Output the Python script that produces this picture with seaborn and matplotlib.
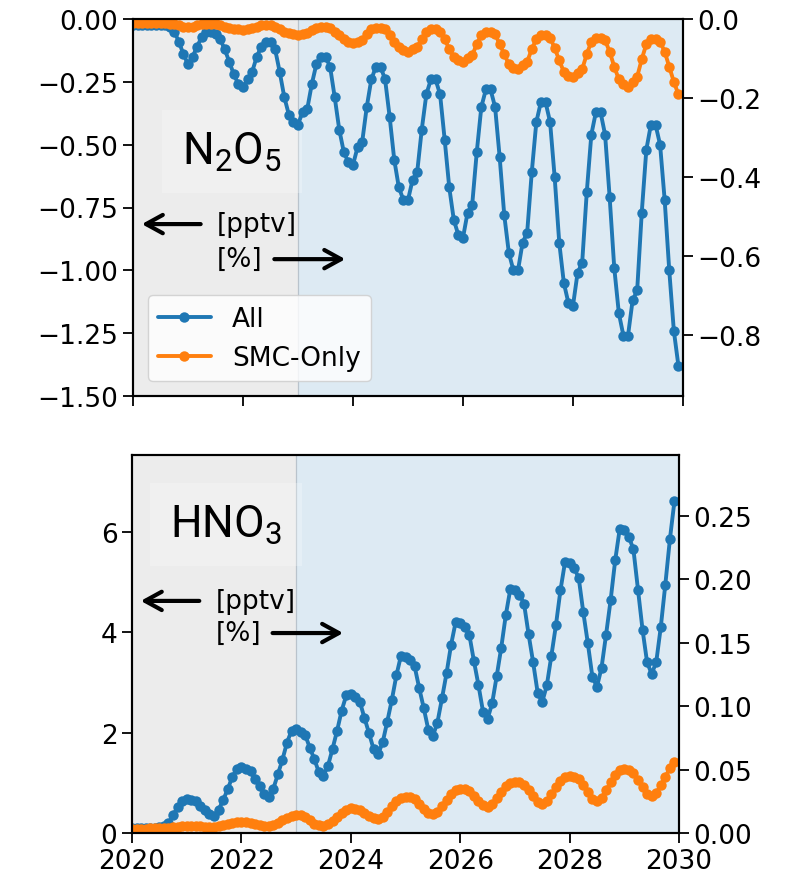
import numpy as np
import pandas as pd
import matplotlib
matplotlib.use("Agg")
import matplotlib.pyplot as plt
import seaborn as sns

# ---- monthly model output, Jan 2020 .. Dec 2029 ----
months = 2020 + np.arange(120) / 12

# N2O5 change [pptv]
n2o5_all = [
    -0.025, -0.025, -0.025, -0.025, -0.025, -0.025, -0.025, -0.025, -0.03, -0.05, -0.09, -0.14,
    -0.18, -0.15, -0.11, -0.07, -0.05, -0.05, -0.06, -0.08, -0.12, -0.17, -0.22, -0.26,
    -0.27, -0.24, -0.21, -0.15, -0.11, -0.09, -0.09, -0.12, -0.21, -0.31, -0.38, -0.41,
    -0.42, -0.37, -0.36, -0.26, -0.18, -0.15, -0.15, -0.19, -0.31, -0.44, -0.53, -0.57,
    -0.58, -0.51, -0.49, -0.35, -0.24, -0.19, -0.19, -0.24, -0.39, -0.56, -0.67, -0.72,
    -0.72, -0.64, -0.61, -0.44, -0.30, -0.24, -0.24, -0.30, -0.48, -0.67, -0.80, -0.86,
    -0.87, -0.77, -0.74, -0.53, -0.35, -0.28, -0.28, -0.35, -0.55, -0.78, -0.93, -1.00,
    -1.00, -0.89, -0.85, -0.61, -0.41, -0.33, -0.33, -0.41, -0.63, -0.89, -1.05, -1.13,
    -1.14, -1.01, -0.97, -0.69, -0.46, -0.37, -0.37, -0.46, -0.71, -0.99, -1.17, -1.26,
    -1.26, -1.12, -1.08, -0.77, -0.52, -0.42, -0.42, -0.50, -0.72, -1.00, -1.24, -1.38,
]
n2o5_smc = [
    -0.015, -0.015, -0.015, -0.015, -0.015, -0.015, -0.015, -0.015, -0.02, -0.02, -0.025, -0.03,
    -0.03, -0.03, -0.025, -0.02, -0.02, -0.02, -0.02, -0.025, -0.03, -0.035, -0.04, -0.04,
    -0.045, -0.04, -0.035, -0.03, -0.025, -0.025, -0.025, -0.03, -0.04, -0.05, -0.055, -0.06,
    -0.065, -0.06, -0.055, -0.045, -0.035, -0.03, -0.03, -0.035, -0.05, -0.065, -0.08, -0.09,
    -0.095, -0.09, -0.085, -0.06, -0.04, -0.035, -0.035, -0.04, -0.065, -0.09, -0.11, -0.125,
    -0.13, -0.12, -0.11, -0.08, -0.05, -0.04, -0.04, -0.05, -0.08, -0.12, -0.15, -0.165,
    -0.17, -0.155, -0.145, -0.10, -0.065, -0.05, -0.05, -0.06, -0.10, -0.14, -0.18, -0.195,
    -0.20, -0.185, -0.17, -0.12, -0.08, -0.065, -0.065, -0.075, -0.115, -0.165, -0.21, -0.225,
    -0.23, -0.215, -0.20, -0.14, -0.09, -0.075, -0.075, -0.085, -0.13, -0.19, -0.24, -0.26,
    -0.27, -0.25, -0.23, -0.16, -0.10, -0.08, -0.08, -0.09, -0.13, -0.19, -0.25, -0.30,
]

# HNO3 change [pptv]
hno3_all = [
    0.10, 0.10, 0.10, 0.10, 0.10, 0.10, 0.11, 0.13, 0.20, 0.35, 0.52, 0.64,
    0.68, 0.66, 0.64, 0.54, 0.46, 0.37, 0.34, 0.46, 0.66, 0.87, 1.12, 1.28,
    1.31, 1.28, 1.23, 1.07, 0.93, 0.77, 0.72, 0.88, 1.17, 1.46, 1.80, 2.04,
    2.07, 2.02, 1.95, 1.70, 1.47, 1.21, 1.14, 1.34, 1.68, 2.04, 2.44, 2.74,
    2.77, 2.71, 2.61, 2.29, 1.99, 1.67, 1.57, 1.81, 2.22, 2.65, 3.14, 3.53,
    3.51, 3.45, 3.32, 2.89, 2.49, 2.06, 1.93, 2.20, 2.68, 3.18, 3.75, 4.20,
    4.18, 4.10, 3.95, 3.43, 2.95, 2.42, 2.27, 2.58, 3.12, 3.69, 4.34, 4.86,
    4.84, 4.75, 4.57, 3.96, 3.40, 2.79, 2.61, 2.94, 3.53, 4.14, 4.84, 5.40,
    5.38, 5.28, 5.08, 4.40, 3.78, 3.11, 2.91, 3.29, 3.95, 4.64, 5.43, 6.06,
    6.03, 5.90, 5.65, 4.85, 4.05, 3.40, 3.17, 3.40, 4.10, 4.95, 5.85, 6.61,
]
hno3_smc = [
    0.08, 0.08, 0.08, 0.08, 0.09, 0.09, 0.09, 0.10, 0.10, 0.11, 0.12, 0.13,
    0.14, 0.14, 0.13, 0.13, 0.12, 0.12, 0.12, 0.13, 0.15, 0.17, 0.19, 0.21,
    0.22, 0.21, 0.20, 0.17, 0.15, 0.14, 0.14, 0.16, 0.20, 0.25, 0.30, 0.34,
    0.36, 0.35, 0.32, 0.25, 0.18, 0.15, 0.14, 0.17, 0.24, 0.32, 0.40, 0.46,
    0.49, 0.48, 0.45, 0.39, 0.33, 0.29, 0.28, 0.32, 0.42, 0.53, 0.63, 0.70,
    0.72, 0.71, 0.67, 0.58, 0.48, 0.40, 0.38, 0.42, 0.54, 0.66, 0.78, 0.86,
    0.88, 0.87, 0.83, 0.74, 0.63, 0.55, 0.52, 0.57, 0.69, 0.81, 0.93, 1.00,
    1.02, 1.01, 0.96, 0.85, 0.73, 0.62, 0.58, 0.63, 0.77, 0.91, 1.04, 1.12,
    1.14, 1.12, 1.07, 0.95, 0.81, 0.68, 0.64, 0.70, 0.85, 1.01, 1.16, 1.25,
    1.27, 1.25, 1.19, 1.06, 0.91, 0.78, 0.74, 0.80, 0.95, 1.12, 1.29, 1.41,
]

runs = ["All", "SMC-Only"]
palette = {"All": "#1f77b4", "SMC-Only": "#ff7f0e"}
year_ticks = [2020, 2022, 2024, 2026, 2028, 2030]


def frame(all_vals, smc_vals):
    return pd.concat([
        pd.DataFrame({"year": months, "value": all_vals, "run": "All"}),
        pd.DataFrame({"year": months, "value": smc_vals, "run": "SMC-Only"}),
    ], ignore_index=True)


sns.set_style("ticks")
plt.rcParams.update({
    "font.family": ["DejaVu Sans"],
    "text.color": "black",
    "axes.labelcolor": "black",
    "axes.edgecolor": "black",
    "axes.linewidth": 1.5,
    "xtick.color": "black",
    "ytick.color": "black",
    "xtick.major.size": 7,
    "ytick.major.size": 7,
    "xtick.major.width": 1.3,
    "ytick.major.width": 1.3,
    "xtick.labelsize": 19,
    "ytick.labelsize": 19,
    "xtick.direction": "out",
    "ytick.direction": "out",
    "mathtext.fontset": "custom",
    "mathtext.rm": "Roboto",
})

fig = plt.figure(figsize=(7.91, 8.79), dpi=100)
ax_top = fig.add_axes([133 / 791, 1 - 397 / 879, 550 / 791, 377 / 879])
ax_bot = fig.add_axes([132 / 791, 1 - 834 / 879, 547 / 791, 378 / 879])

panels = [
    (ax_top, frame(n2o5_all, n2o5_smc), (-1.5, 0.0), np.arange(-1.5, 0.01, 0.25),
     (-0.954, 0.0), [0.0, -0.2, -0.4, -0.6, -0.8],
     r"N$_{\mathregular{2}}$O$_{\mathregular{5}}$", (0.089, 0.616),
     (0.456, 0.363)),
    (ax_bot, frame(hno3_all, hno3_smc), (0.0, 7.53), [0, 2, 4, 6],
     (0.0, 0.298), [0.00, 0.05, 0.10, 0.15, 0.20, 0.25],
     r"HNO$_{\mathregular{3}}$", (0.069, 0.783),
     (0.614, 0.529)),
]

arrow_kw = dict(arrowstyle="->,head_length=0.4,head_width=0.22",
                lw=3, color="black", mutation_scale=30, shrinkA=0, shrinkB=0)

for i, (ax, df, ylim, yticks, rlim, rticks, name, name_xy, arrow_y) in enumerate(panels):
    # spin-up period vs. projection period
    ax.axvspan(2020, 2023, color="gray", alpha=0.15, lw=0, zorder=0)
    ax.axvspan(2023, 2030, color="#1f77b4", alpha=0.15, lw=0, zorder=0)
    ax.axvline(2023, color="#b9c3cc", lw=0.9, zorder=0.5)

    sns.lineplot(data=df, x="year", y="value", hue="run", hue_order=runs,
                 palette=palette, marker="o", markersize=7.5,
                 markeredgewidth=0, linewidth=2.8, ax=ax, legend=(i == 0))

    ax.set_xlim(2020, 2030)
    ax.set_ylim(*ylim)
    ax.set_xticks(year_ticks)
    ax.set_yticks(yticks)
    ax.ticklabel_format(axis="x", useOffset=False, style="plain")
    ax.set_xlabel("")
    ax.set_ylabel("")
    if i == 0:
        ax.tick_params(axis="x", labelbottom=False)

    rax = ax.twinx()
    rax.set_ylim(*rlim)
    rax.set_yticks(rticks)
    rax.tick_params(axis="y", labelsize=19, length=7, width=1.3)

    ax.text(name_xy[0], name_xy[1], name, transform=ax.transAxes,
            fontsize=32, family="Roboto", va="baseline", ha="left", zorder=1,
            bbox=dict(boxstyle="square,pad=0.45", fc="white", alpha=0.25, ec="none"))

    ya, yb = arrow_y
    ax.annotate("", xy=(0.016, ya), xytext=(0.123, ya), xycoords="axes fraction",
                arrowprops=arrow_kw)
    ax.text(0.153, ya, "[pptv]", transform=ax.transAxes, fontsize=19,
            va="center", ha="left")
    ax.text(0.153, yb, "[%]", transform=ax.transAxes, fontsize=19,
            va="center", ha="left")
    ax.annotate("", xy=(0.386, yb), xytext=(0.257, yb), xycoords="axes fraction",
                arrowprops=arrow_kw)

    if i == 0:
        handles, labels = ax.get_legend_handles_labels()
        ax.legend(handles, labels, loc="lower left", fontsize=19,
                  frameon=True, framealpha=0.8, edgecolor="#cccccc",
                  fancybox=True, borderaxespad=0.55, labelcolor="black")

fig.savefig("out.png", dpi=100)
